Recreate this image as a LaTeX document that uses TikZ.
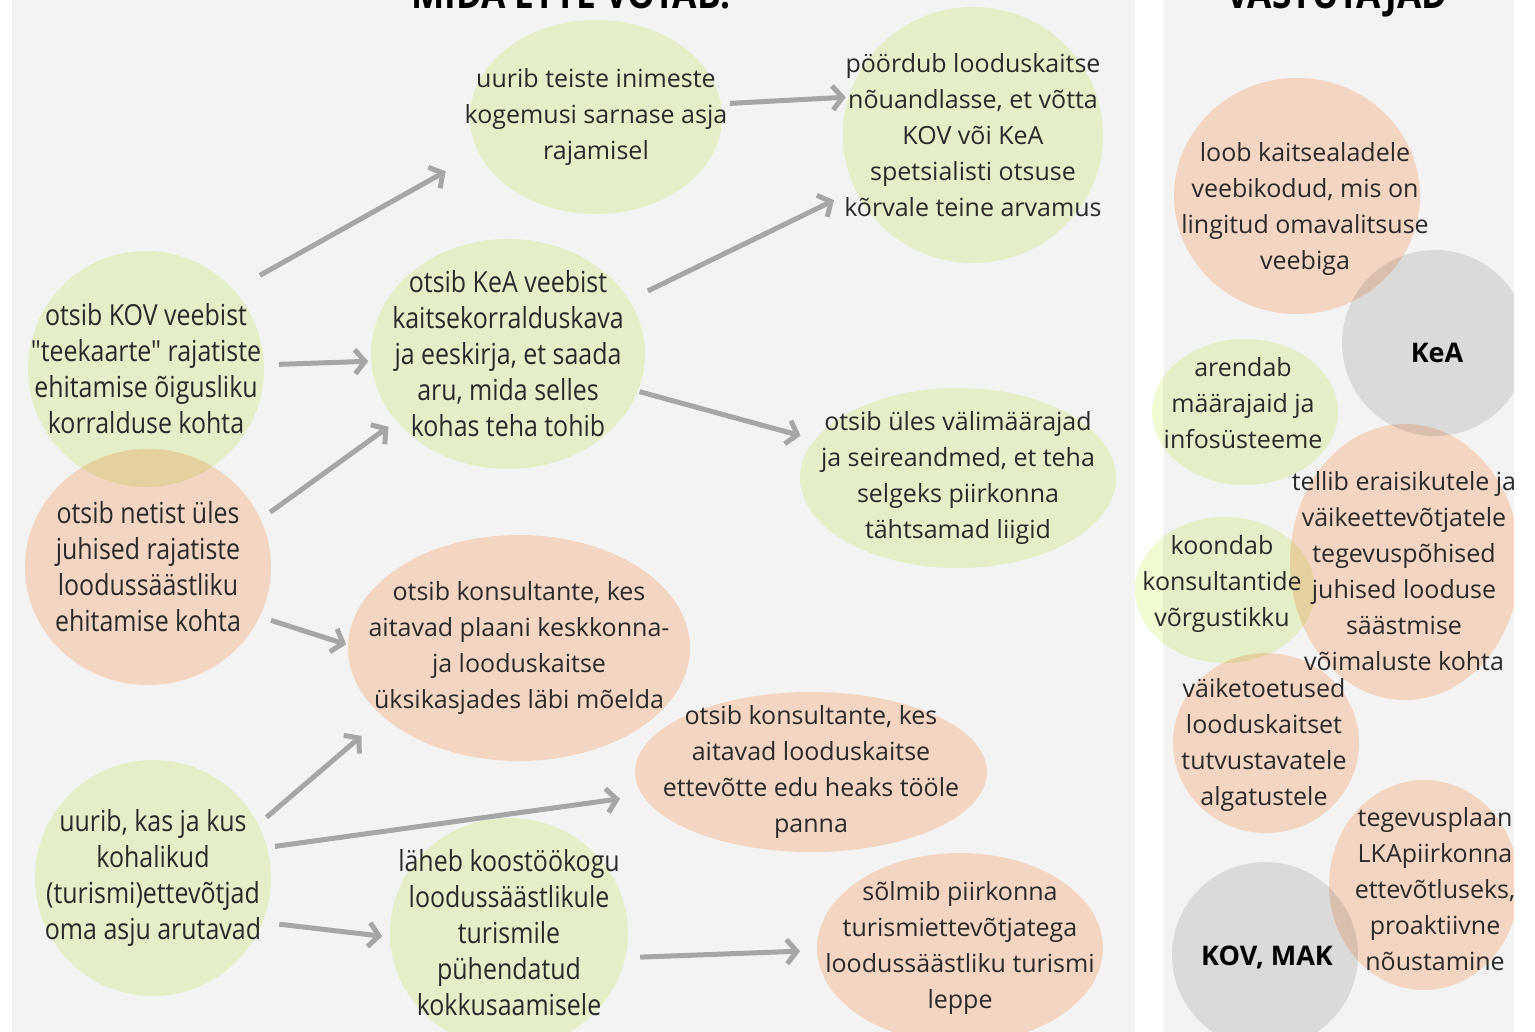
\documentclass[tikz,border=0pt]{standalone}
\usepackage{fontspec}
\setmainfont{Open Sans}
\newfontfamily\condfont[FakeStretch=0.86]{Open Sans}
\usetikzlibrary{shapes.geometric,arrows.meta}

\definecolor{panel}{HTML}{F3F3F3}
\definecolor{leaf}{HTML}{F0FBD1}
\definecolor{peach}{HTML}{FFE0CC}
\definecolor{stone}{HTML}{E5E5E5}
\definecolor{arrowgrey}{HTML}{A6A6A6}
\definecolor{ink}{HTML}{2A2A2A}

\tikzset{
  radii/.style 2 args={minimum width=#1*0.5pt, minimum height=#2*0.5pt},
  blob/.style={ellipse, inner sep=0pt, outer sep=0pt},
  leafblob/.style={blob, fill=leaf},
  peachblob/.style={blob, fill=peach},
  stoneblob/.style={blob, fill=stone},
  txt/.style={align=center, text=ink, inner sep=0pt, font=\fontsize{12.5}{18}\selectfont},
  ctxt/.style={txt, font=\condfont\fontsize{14.5}{18}\selectfont},
  heading/.style={anchor=base, text=black, inner sep=0pt, font=\condfont\bfseries\fontsize{20.5}{24}\selectfont},
  who/.style={txt, font=\bfseries\fontsize{13.5}{18}\selectfont, text=black},
  arr/.style={draw=arrowgrey, line width=2.5pt, -{Straight Barb[length=5pt,width=12pt]}},
}

\begin{document}
\begin{tikzpicture}[x=0.5pt, y=-0.5pt]
	\useasboundingbox (0,0) rectangle (1535,1032);
	\fill[white] (0,0) rectangle (1535,1032);
	\fill[panel] (12,-20) rectangle (1135,1050);
	\fill[panel] (1163,-20) rectangle (1514,1050);

	% headings (cut off by the top edge)
	\node[heading] (head-left)  at (571,9)  {MIDA ETTE VÕTAB!};
	\node[heading] (head-right) at (1337,9) {VASTUTAJAD};

	% left panel: what one does
	\begin{scope}[blend mode=multiply]
		\node[leafblob,  radii={252}{194}] (uurib)   at (596,117) {};
		\node[leafblob,  radii={260}{256}] (poordub) at (973,135) {};
		\node[leafblob,  radii={274}{230}] (kea)     at (508,354) {};
		\node[leafblob,  radii={236}{236}] (kov)     at (146,369) {};
		\node[peachblob, radii={246}{236}] (netist)  at (148,567) {};
		\node[leafblob,  radii={316}{180}] (valim)   at (958,478) {};
		\node[peachblob, radii={342}{226}] (kons1)   at (519,648) {};
		\node[peachblob, radii={352}{160}] (kons2)   at (811,772) {};
		\node[leafblob,  radii={236}{236}] (uurib2)  at (153,878) {};
		\node[leafblob,  radii={238}{230}] (koostoo) at (509,933) {};
		\node[peachblob, radii={286}{190}] (leppe)   at (960,948) {};
	\end{scope}

	\node[txt]  (uurib-t)   at (uurib)   {uurib teiste inimeste\\kogemusi sarnase asja\\rajamisel};
	\node[txt]  (poordub-t) at (poordub) {pöördub looduskaitse\\nõuandlasse, et võtta\\KOV või KeA\\spetsialisti otsuse\\kõrvale teine arvamus};
	\node[ctxt] (kea-t)     at (kea)     {otsib KeA veebist\\kaitsekorralduskava\\ja eeskirja, et saada\\aru, mida selles\\kohas teha tohib};
	\node[ctxt] (kov-t)     at (kov)     {otsib KOV veebist\\"teekaarte" rajatiste\\ehitamise õigusliku\\korralduse kohta};
	\node[ctxt] (netist-t)  at (netist)  {otsib netist üles\\juhised rajatiste\\loodussäästliku\\ehitamise kohta};
	\node[txt]  (valim-t)   at (valim)   {otsib üles välimäärajad\\ja seireandmed, et teha\\selgeks piirkonna\\tähtsamad liigid};
	\node[txt]  (kons1-t)   at (kons1)   {otsib konsultante, kes\\aitavad plaani keskkonna-\\ja looduskaitse\\üksikasjades läbi mõelda};
	\node[txt]  (kons2-t)   at (kons2)   {otsib konsultante, kes\\aitavad looduskaitse\\ettevõtte edu heaks tööle\\panna};
	\node[ctxt] (uurib2-t)  at (uurib2)  {uurib, kas ja kus\\kohalikud\\(turismi)ettevõtjad\\oma asju arutavad};
	\node[ctxt] (koostoo-t) at (koostoo) {läheb koostöökogu\\loodussäästlikule\\turismile\\pühendatud\\kokkusaamisele};
	\node[txt]  (leppe-t)   at (leppe)   {sõlmib piirkonna\\turismiettevõtjatega\\loodussäästliku turismi\\leppe};

	% arrows
	\draw[arr, shorten <=15pt, shorten >=19pt]  (kov.42)     -- (uurib.197);
	\draw[arr, shorten <=7.5pt, shorten >=1.5pt] (kov.2)      -- (kea.183);
	\draw[arr, shorten <=6pt, shorten >=5pt]     (netist.23)  -- (kea.211);
	\draw[arr, shorten <=6pt, shorten >=1pt]     (netist.-24) -- (kons1.179);
	\draw[arr, shorten <=4.5pt, shorten >=1.5pt] (uurib.6)    -- (poordub.163);
	\draw[arr, shorten <=10.5pt, shorten >=12pt] (kea.24)     -- (poordub.205);
	\draw[arr, shorten <=1pt, shorten >=7.5pt]   (kea.-16)    -- (valim.165);
	\draw[arr, shorten <=5.5pt, shorten >=14.5pt] (uurib2.27) -- (kons1.207);
	\draw[arr, shorten <=4pt, shorten >=11.5pt]  (uurib2.15)  -- (kons2.188);
	\draw[arr, shorten <=8.5pt, shorten >=4pt]   (uurib2.-22) -- (koostoo.182);
	\draw[arr, shorten <=7.5pt, shorten >=8.5pt] (koostoo.-12) -- (leppe.181);

	% right panel: who is responsible
	\begin{scope}
		\clip (1120,-20) rectangle (1514,1050);
		\begin{scope}[blend mode=multiply]
			\node[stoneblob, radii={186}{186}] (kea-r)   at (1435,343) {};
			\node[peachblob, radii={246}{236}] (loob)    at (1297,196) {};
			\node[leafblob,  radii={186}{146}] (arendab) at (1245,412) {};
			\node[peachblob, radii={230}{276}] (tellib)  at (1405,562) {};
			\node[leafblob,  radii={180}{146}] (koondab) at (1225,590) {};
			\node[peachblob, radii={186}{180}] (vaike)   at (1266,743) {};
			\node[peachblob, radii={190}{210}] (tegevus) at (1424,885) {};
			\node[stoneblob, radii={186}{186}] (kovmak)  at (1265,955) {};
		\end{scope}
		\node[who] (kea-r-t)   at (1437,353) {KeA};
		\node[txt] (loob-t)    at (1305,209) {loob kaitsealadele\\veebikodud, mis on\\lingitud omavalitsuse\\veebiga};
		\node[txt] (arendab-t) at (1243,403) {arendab\\määrajaid ja\\infosüsteeme};
		\node[txt] (tellib-t)  at (1404,571) {tellib eraisikutele ja\\väikeettevõtjatele\\tegevuspõhised\\juhised looduse\\säästmise\\võimaluste kohta};
		\node[txt] (koondab-t) at (1222,584) {koondab\\konsultantide\\võrgustikku};
		\node[txt] (vaike-t)   at (1264,745) {väiketoetused\\looduskaitset\\tutvustavatele\\algatustele};
		\node[txt] (tegevus-t) at (1435,889) {tegevusplaan\\LKApiirkonna\\ettevõtluseks,\\proaktiivne\\nõustamine};
		\node[who] (kovmak-t)  at (1267,957) {KOV, MAK};
	\end{scope}
\end{tikzpicture}
\end{document}
